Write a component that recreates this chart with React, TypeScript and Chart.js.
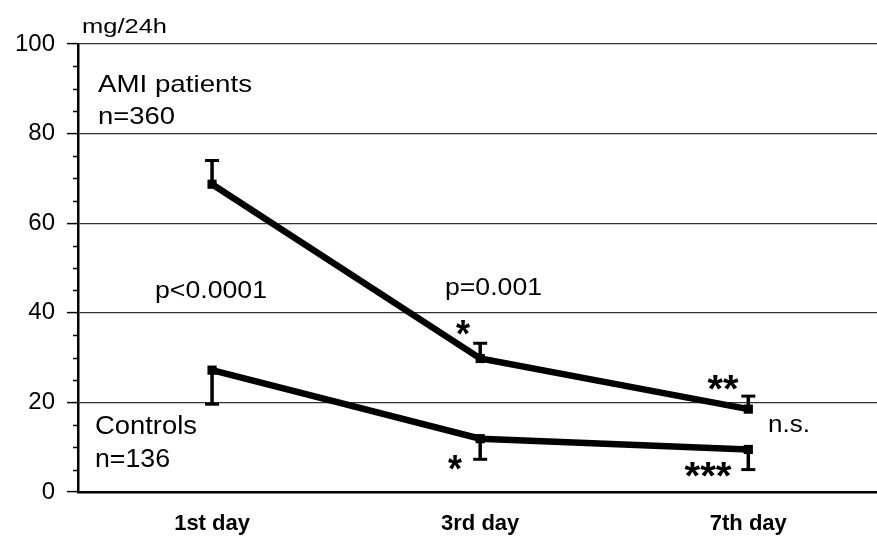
import React, { useEffect, useRef } from "react";
import { Chart, registerables } from "chart.js";

Chart.register(...registerables);

const categories = ["1st day", "3rd day", "7th day"];
const amiMean = [68.7, 29.8, 18.5];
const amiErrUp = [5.3, 3.4, 2.9];
const ctrlMean = [27.2, 11.9, 9.5];
const ctrlErrDown = [7.6, 4.6, 4.5];
const yTickValues = [0, 20, 40, 60, 80, 100];
const yMinorStep = 5;

const FONT = "'Liberation Sans', Arial, Helvetica, sans-serif";

type Note = { text: string; left?: number; cx?: number; cy?: number; baseline?: number; size: number; width: number; bold?: boolean };

const notes: Note[] = [
  { text: "mg/24h", left: 82, baseline: 33, size: 21, width: 85 },
  { text: "AMI patients", left: 98, baseline: 92, size: 24, width: 154 },
  { text: "n=360", left: 98, baseline: 124, size: 24, width: 77 },
  { text: "p<0.0001", left: 155, baseline: 298, size: 23, width: 112 },
  { text: "p=0.001", left: 445, baseline: 295, size: 23, width: 97 },
  { text: "Controls", left: 95, baseline: 434, size: 25, width: 102 },
  { text: "n=136", left: 95, baseline: 467, size: 25, width: 75 },
  { text: "n.s.", left: 768, baseline: 432, size: 23, width: 42 },
  { text: "*", cx: 463, cy: 327, size: 38, width: 14, bold: true },
  { text: "*", cx: 455, cy: 462, size: 38, width: 14, bold: true },
  { text: "**", cx: 723, cy: 382, size: 38, width: 31, bold: true },
  { text: "***", cx: 708, cy: 469, size: 38, width: 47, bold: true },
];

const overlayPlugin = {
  id: "overlay",
  afterDraw(chart: any) {
    const { ctx, scales } = chart;
    const x = scales.x;
    const y = scales.y;
    ctx.save();
    // minor ticks on y axis
    ctx.strokeStyle = "#000";
    ctx.lineWidth = 1.5;
    for (let v = 0; v <= 100; v += yMinorStep) {
      if (yTickValues.includes(v)) continue;
      const py = Math.round(y.getPixelForValue(v)) + 0.5;
      ctx.beginPath();
      ctx.moveTo(y.right - 5, py);
      ctx.lineTo(y.right, py);
      ctx.stroke();
    }
    // error bars
    const drawErr = (means: number[], errs: number[], dir: number) => {
      means.forEach((m, i) => {
        const px = x.getPixelForValue(i);
        const p0 = y.getPixelForValue(m);
        const p1 = y.getPixelForValue(m + dir * errs[i]);
        ctx.strokeStyle = "#000";
        ctx.lineWidth = 3.5;
        ctx.beginPath();
        ctx.moveTo(px, p0);
        ctx.lineTo(px, p1);
        ctx.stroke();
        ctx.lineWidth = 3;
        ctx.beginPath();
        ctx.moveTo(px - 7, p1);
        ctx.lineTo(px + 7, p1);
        ctx.stroke();
      });
    };
    drawErr(amiMean, amiErrUp, 1);
    drawErr(ctrlMean, ctrlErrDown, -1);
    // annotations
    ctx.fillStyle = "#000";
    notes.forEach((n) => {
      ctx.font = `${n.bold ? "bold " : ""}${n.size}px ${FONT}`;
      const m = ctx.measureText(n.text);
      const sx = n.width / m.width;
      ctx.save();
      ctx.textBaseline = "alphabetic";
      ctx.textAlign = "left";
      if (n.cx !== undefined && n.cy !== undefined) {
        const asc = m.actualBoundingBoxAscent;
        const desc = m.actualBoundingBoxDescent;
        const base = n.cy + (asc - desc) / 2;
        ctx.translate(n.cx - n.width / 2, base);
      } else {
        ctx.translate(n.left as number, n.baseline as number);
      }
      ctx.scale(sx, 1);
      ctx.fillText(n.text, 0, 0);
      ctx.restore();
    });
    ctx.restore();
  },
};

export default function App() {
  const ref = useRef<HTMLCanvasElement>(null);
  useEffect(() => {
    if (!ref.current) return;
    const chart = new Chart(ref.current, {
      type: "line",
      data: {
        datasets: [
          {
            label: "AMI patients",
            data: amiMean.map((v, i) => ({ x: i, y: v })),
            borderColor: "#000",
            backgroundColor: "#000",
            borderWidth: 6.5,
            pointStyle: "rect",
            pointRadius: 6.5,
            pointBorderWidth: 0,
            pointBackgroundColor: "#000",
            tension: 0,
          },
          {
            label: "Controls",
            data: ctrlMean.map((v, i) => ({ x: i, y: v })),
            borderColor: "#000",
            backgroundColor: "#000",
            borderWidth: 6.5,
            pointStyle: "rect",
            pointRadius: 6.5,
            pointBorderWidth: 0,
            pointBackgroundColor: "#000",
            tension: 0,
          },
        ],
      },
      options: {
        animation: false,
        responsive: false,
        devicePixelRatio: 1,
        layout: { autoPadding: false, padding: { top: 44, left: 0, right: 0, bottom: 0 } },
        plugins: { legend: { display: false }, tooltip: { enabled: false } },
        scales: {
          x: {
            type: "linear",
            min: -0.5,
            max: 2.48,
            afterBuildTicks: (s: any) => {
              s.ticks = categories.map((_, i) => ({ value: i }));
            },
            afterFit: (s: any) => {
              s.height = 47;
              s.paddingRight = 0;
              s.paddingLeft = 0;
            },
            ticks: {
              callback: (v: any) => categories[v as number] ?? "",
              font: { family: FONT, size: 22, weight: "bold" },
              color: "#000",
              padding: 11,
              maxRotation: 0,
            },
            grid: { display: false },
            border: { display: true, color: "#000", width: 2.5 },
          },
          y: {
            min: 0,
            max: 100,
            afterBuildTicks: (s: any) => {
              s.ticks = yTickValues.map((v) => ({ value: v }));
            },
            afterFit: (s: any) => {
              s.width = 78;
              s.paddingTop = 0;
              s.paddingBottom = 0;
            },
            ticks: {
              font: { family: FONT, size: 24 },
              color: "#000",
              padding: 12,
            },
            grid: {
              color: "#333",
              lineWidth: 1.2,
              tickLength: 11,
              tickColor: "#000",
              tickWidth: 1.5,
            },
            border: { display: true, color: "#000", width: 2.5 },
          },
        },
      },
      plugins: [overlayPlugin],
    } as any);
    return () => chart.destroy();
  }, []);
  return (
    <div style={{ position: "absolute", left: 0, top: 0, width: 877, height: 539, background: "#fff" }}>
      <canvas ref={ref} width={877} height={539} />
    </div>
  );
}
